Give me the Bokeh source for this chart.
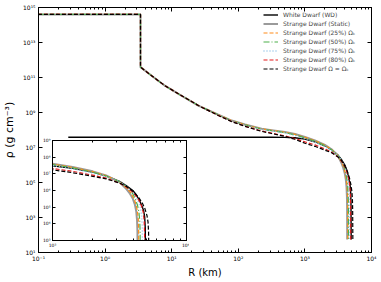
import numpy as np
from bokeh.plotting import figure
from bokeh.models import FixedTicker, LogAxis, CustomJSTickFormatter, Legend, LegendItem, Range1d
from bokeh.embed import file_html
from bokeh.resources import INLINE

# ---------------- data ----------------
# strange-dwarf core and inner crust (shared by all strange-dwarf models)
sd_core_R = [0.01, 3.40]
sd_core_rho = [4.0e14, 4.0e14]
sd_inner_R = [3.40, 5.0, 7.9, 12.6, 25.1]
sd_inner_rho = [3.9e11, 1.26e11, 3.4e10, 1.17e10, 2.5e9]
# envelope radii (km)
env_R = [50.1, 79.4, 126, 224, 316, 501, 708, 1000, 1413, 1995, 2512, 3162]

static_env_rho = [7.41e8, 3.47e8, 2.04e8, 1.17e8, 9.77e7, 7.59e7, 5.89e7, 3.98e7, 2.57e7, 1.41e7, 7.94e6, 3.16e6]
static_surf_R = [3548, 3758, 3981, 4121, 4217, 4276, 4305, 4315]
static_surf_rho = [1.26e6, 7.08e5, 3.16e5, 1.41e5, 5.62e4, 1.58e4, 3.16e3, 55]

om25_env_rho = [7.41e8, 3.47e8, 2.00e8, 1.15e8, 9.55e7, 7.41e7, 5.62e7, 3.80e7, 2.45e7, 1.35e7, 7.76e6, 3.31e6]
om25_surf_R = [3548, 3802, 4027, 4169, 4285, 4365, 4395, 4416]
om25_surf_rho = [1.51e6, 7.94e5, 3.55e5, 1.78e5, 7.08e4, 2.0e4, 3.98e3, 55]

om50_env_rho = [7.41e8, 3.39e8, 1.95e8, 1.12e8, 9.12e7, 7.08e7, 5.25e7, 3.55e7, 2.29e7, 1.26e7, 7.41e6, 3.39e6]
om50_surf_R = [3548, 3758, 3981, 4169, 4315, 4416, 4477, 4508, 4519]
om50_surf_rho = [1.78e6, 1.12e6, 6.31e5, 2.82e5, 1.26e5, 5.01e4, 1.58e4, 3.16e3, 55]

om75_env_rho = [7.24e8, 3.31e8, 1.86e8, 1.07e8, 8.71e7, 6.76e7, 4.90e7, 3.16e7, 2.0e7, 1.10e7, 6.76e6, 3.31e6]
om75_surf_R = [3548, 3981, 4217, 4416, 4550, 4634, 4677, 4699]
om75_surf_rho = [1.91e6, 7.94e5, 3.98e5, 1.78e5, 7.94e4, 2.82e4, 6.31e3, 55]

om80_env_rho = [6.84e8, 3.09e8, 1.66e8, 8.71e7, 6.61e7, 4.57e7, 3.24e7, 2.09e7, 1.41e7, 8.32e6, 5.50e6, 2.82e6]
om80_surf_R = [3548, 3981, 4266, 4467, 4624, 4753, 4831, 4864, 4875]
om80_surf_rho = [1.66e6, 7.94e5, 3.98e5, 2.24e5, 1.12e5, 5.01e4, 1.58e4, 3.16e3, 55]

kep_env_rho = [6.76e8, 3.02e8, 1.62e8, 8.32e7, 6.31e7, 4.27e7, 2.95e7, 1.74e7, 1.17e7, 7.08e6, 5.01e6, 2.82e6]
kep_surf_R = [3548, 3981, 4365, 4677, 4898, 5070, 5164, 5212, 5248]
kep_surf_rho = [1.78e6, 8.91e5, 4.17e5, 1.78e5, 7.94e4, 3.16e4, 1.26e4, 3.16e3, 55]

wd_R = [0.28, 100, 316, 501, 708, 1000, 1413, 1995, 2512, 3162, 3548, 3981, 4169, 4467, 4656, 4786, 4875, 4920, 4955]
wd_rho = [3.89e7, 3.89e7, 3.89e7, 3.80e7, 3.63e7, 3.02e7, 2.14e7, 1.26e7, 7.59e6, 3.55e6, 2.0e6, 1.0e6,
          6.31e5, 2.51e5, 1.12e5, 6.31e4, 2.51e4, 6.31e3, 56]

labels = ["White Dwarf (WD)", "Strange Dwarf (Static)", "Strange Dwarf (25%) Ωₖ",
          "Strange Dwarf (50%) Ωₖ", "Strange Dwarf (75%) Ωₖ", "Strange Dwarf (80%) Ωₖ",
          "Strange Dwarf Ω = Ωₖ"]

x_major = [0.1, 1, 10, 100, 1000, 10000]
y_major = [1e1, 1e3, 1e5, 1e7, 1e9, 1e11, 1e13, 1e15]
inset_x_major = [1e3, 1e4]
inset_y_major = [1e3, 1e4, 1e5, 1e6, 1e7, 1e8, 1e9]


def sd(env_rho, surf_R, surf_rho):
    R = sd_core_R + sd_inner_R + env_R + surf_R
    rho = sd_core_rho + sd_inner_rho + env_rho + surf_rho
    return R, rho


series = [
    (wd_R, wd_rho),
    sd(static_env_rho, static_surf_R, static_surf_rho),
    sd(om25_env_rho, om25_surf_R, om25_surf_rho),
    sd(om50_env_rho, om50_surf_R, om50_surf_rho),
    sd(om75_env_rho, om75_surf_R, om75_surf_rho),
    sd(om80_env_rho, om80_surf_R, om80_surf_rho),
    sd(kep_env_rho, kep_surf_R, kep_surf_rho),
]
styles = [
    dict(line_color="black", line_width=1.4, line_dash="solid"),
    dict(line_color="#9a9a9a", line_width=2.0, line_dash="solid"),
    dict(line_color="#ff8c1a", line_width=1.2, line_dash="4 2"),
    dict(line_color="#4daf4a", line_width=1.2, line_dash="6 2 1 2"),
    dict(line_color="#8fc1e8", line_width=1.3, line_dash="1 2"),
    dict(line_color="#e41a1c", line_width=1.2, line_dash="4 2"),
    dict(line_color="black", line_width=1.2, line_dash="4 2"),
]

FONT = "DejaVu Sans"
sup_js = """
const sup = {"-": "\\u207b", "0": "\\u2070", "1": "\\u00b9", "2": "\\u00b2", "3": "\\u00b3",
             "4": "\\u2074", "5": "\\u2075", "6": "\\u2076", "7": "\\u2077", "8": "\\u2078", "9": "\\u2079"};
const e = Math.round(Math.log10(tick));
let s = "";
for (const c of String(e)) { s += sup[c]; }
return "10" + s;
"""


def minor_list(lo_exp, hi_exp):
    return [k * 10.0 ** n for n in range(lo_exp, hi_exp) for k in range(2, 10)]


def style_axis(ax, fs, show, standoff, major_in, minor_in):
    ax.axis_line_color = "black"
    ax.axis_line_width = 1
    ax.major_tick_line_color = "black"
    ax.minor_tick_line_color = "black"
    ax.major_tick_in = major_in
    ax.major_tick_out = 0
    ax.minor_tick_in = minor_in
    ax.minor_tick_out = 0
    ax.major_label_text_font = FONT
    ax.major_label_text_font_size = fs
    ax.major_label_text_color = "black"
    if show:
        ax.major_label_standoff = standoff
        ax.formatter = CustomJSTickFormatter(code=sup_js)
    else:
        ax.major_label_standoff = 0
        ax.major_label_text_color = None


# ---------------- main figure ----------------
p = figure(x_axis_type="log", y_axis_type="log",
           x_range=Range1d(0.1, 1e4), y_range=Range1d(1e1, 1e15),
           frame_width=333, frame_height=245,
           min_border_left=37, min_border_right=10, min_border_top=7, min_border_bottom=28,
           output_backend="svg", toolbar_location=None)
p.grid.visible = False
p.outline_line_color = "black"
p.background_fill_color = "white"

xt = FixedTicker(ticks=x_major, minor_ticks=minor_list(-1, 4))
yt = FixedTicker(ticks=y_major, minor_ticks=[])
xb = p.below[0]
yl = p.left[0]
xb.ticker = xt
yl.ticker = yt
style_axis(xb, "6px", True, 2, 4, 2)
style_axis(yl, "6px", True, 3, 4, 2)
top_ax = LogAxis(ticker=xt)
right_ax = LogAxis(ticker=yt)
style_axis(top_ax, "1px", False, 0, 4, 2)
style_axis(right_ax, "1px", False, 0, 4, 2)
p.add_layout(top_ax, "above")
p.add_layout(right_ax, "right")

xb.axis_label = "R (km)"
yl.axis_label = "ρ (g cm⁻³)"
xb.axis_label_text_font_size = "10px"
yl.axis_label_text_font_size = "11px"
xb.axis_label_standoff = 2
yl.axis_label_standoff = 4
for ax in (xb, yl):
    ax.axis_label_text_font = FONT
    ax.axis_label_text_font_style = "normal"
    ax.axis_label_text_color = "black"

items = []
for (R, rho), st, lab in zip(series, styles, labels):
    r = p.line(R, rho, **st)
    items.append(LegendItem(label=lab, renderers=[r]))

leg = Legend(items=items, location=(225, 180), orientation="vertical",
             label_text_font=FONT, label_text_font_size="6px",
             glyph_width=15, glyph_height=7, label_height=7, label_standoff=5,
             spacing=2, padding=0, margin=0,
             border_line_color=None, background_fill_alpha=0)
p.add_layout(leg, "center")

# ---------------- inset ----------------
ins = figure(x_axis_type="log", y_axis_type="log",
             x_range=Range1d(1e3, 1e4), y_range=Range1d(1e3, 1e9),
             frame_width=134, frame_height=100,
             min_border_left=13, min_border_right=3, min_border_top=6, min_border_bottom=12,
             output_backend="svg", toolbar_location=None)
ins.grid.visible = False
ins.outline_line_color = "black"
ins.background_fill_color = "white"
ins.border_fill_alpha = 0
ixt = FixedTicker(ticks=inset_x_major, minor_ticks=minor_list(3, 4))
iyt = FixedTicker(ticks=inset_y_major, minor_ticks=[])
ixb = ins.below[0]
iyl = ins.left[0]
ixb.ticker = ixt
iyl.ticker = iyt
style_axis(ixb, "4.5px", True, 2, 3, 2)
style_axis(iyl, "4.5px", True, 2, 3, 2)
itop = LogAxis(ticker=ixt)
iright = LogAxis(ticker=iyt)
style_axis(itop, "1px", False, 0, 3, 2)
style_axis(iright, "1px", False, 0, 3, 2)
ins.add_layout(itop, "above")
ins.add_layout(iright, "right")
for (R, rho), st in zip(series, styles):
    ins.line(R, rho, **st)

ins.styles = {"position": "absolute", "left": "39px", "top": "134px"}

open("out.html", "w").write(file_html([p, ins], INLINE))
